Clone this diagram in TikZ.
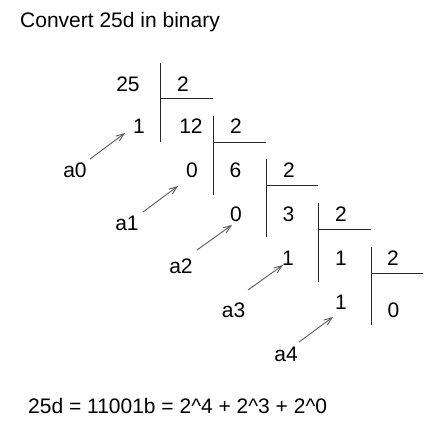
\documentclass[tikz,border=0pt]{standalone}
\usepackage{fontspec}
\setmainfont{Liberation Sans}
\usetikzlibrary{arrows.meta}
\tikzset{
  txt/.style={inner sep=0pt, anchor=base, font=\fontsize{21}{25}\selectfont},
  rule/.style={draw=black!85, line width=1pt},
  pointer/.style={draw=black!65, line width=0.9pt, -{Straight Barb[length=8pt,width=6pt]}}
}
\begin{document}
\begin{tikzpicture}[x=1pt,y=-1pt]
\useasboundingbox (0,0) rectangle (428,436);
% title and result
\node[txt, anchor=base west] (title) at (20,28) {Convert 25d in binary};
\node[txt, anchor=base west] (result) at (28,413) {25d = 11001b = 2\textasciicircum 4 + 2\textasciicircum 3 + 2\textasciicircum 0};
% row 1
\node[txt] (q0) at (128,92) {25};
\node[txt] (d1) at (183,92) {2};
% row 2
\node[txt] (r1) at (139,133) {1};
\node[txt] (q1) at (191,133) {12};
\node[txt] (d2) at (236,133) {2};
% row 3
\node[txt] (r2) at (192,177) {0};
\node[txt] (q2) at (235.5,177) {6};
\node[txt] (d3) at (289,177) {2};
% row 4
\node[txt] (r3) at (236,221) {0};
\node[txt] (q3) at (288.5,221) {3};
\node[txt] (d4) at (341,221) {2};
% row 5
\node[txt] (r4) at (288,265) {1};
\node[txt] (q4) at (341,265) {1};
\node[txt] (d5) at (393,265) {2};
% row 6
\node[txt] (r5) at (341,309) {1};
\node[txt] (q5) at (393.5,317) {0};
% division rules
\draw[rule] (160,63) -- (160,142);
\draw[rule] (160,98) -- (213,98);
\draw[rule] (213,116) -- (213,195);
\draw[rule] (213,142) -- (266,142);
\draw[rule] (266,159) -- (266,237);
\draw[rule] (266,185.5) -- (318,185.5);
\draw[rule] (318,203) -- (318,282);
\draw[rule] (318,229) -- (371,229);
\draw[rule] (371,247) -- (371,325);
\draw[rule] (371,273) -- (423,273);
% labels
\node[txt] (a0) at (75,177) {a0};
\node[txt] (a1) at (127,230) {a1};
\node[txt] (a2) at (181,273) {a2};
\node[txt] (a3) at (233.5,317) {a3};
\node[txt] (a4) at (286,361) {a4};
% arrow ends
\coordinate (t0) at (90,159);   \coordinate (h0) at (125,133);
\coordinate (t1) at (143,212);  \coordinate (h1) at (178,186);
\coordinate (t2) at (197,250);  \coordinate (h2) at (232,225);
\coordinate (t3) at (248,290);  \coordinate (h3) at (283,265);
\coordinate (t4) at (299,342);  \coordinate (h4) at (333,317);
\draw[pointer] (t0) -- (h0);
\draw[pointer] (t1) -- (h1);
\draw[pointer] (t2) -- (h2);
\draw[pointer] (t3) -- (h3);
\draw[pointer] (t4) -- (h4);
\end{tikzpicture}
\end{document}
